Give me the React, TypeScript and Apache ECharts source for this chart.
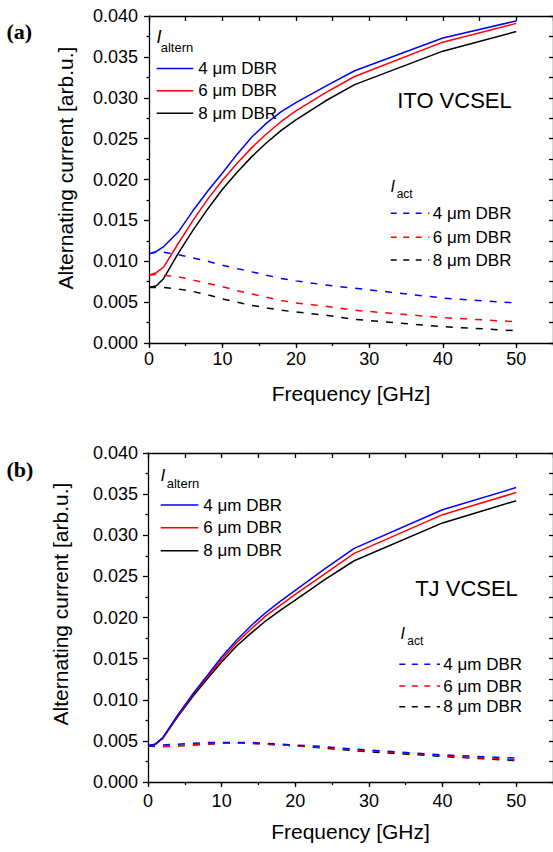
import React, { useEffect, useRef } from "react";
import * as echarts from "echarts";

// ---------- data ----------
const freqGHz = [0, 1, 2, 4, 6, 8, 10, 12, 14, 16, 18, 20, 24, 28, 40, 50];

// (a) ITO VCSEL
const itoAltern4 = [0.0109, 0.0112, 0.0118, 0.0136, 0.0162, 0.0186, 0.0208, 0.0231, 0.0252, 0.0269, 0.0283, 0.0294, 0.0314, 0.0333, 0.0373, 0.0394];
const itoAltern6 = [0.0083, 0.0086, 0.0093, 0.0122, 0.015, 0.0176, 0.0199, 0.022, 0.0239, 0.0256, 0.0271, 0.0284, 0.0306, 0.0326, 0.0368, 0.0391];
const itoAltern8 = [0.0068, 0.007, 0.0079, 0.011, 0.0138, 0.0164, 0.0188, 0.0209, 0.0228, 0.0245, 0.026, 0.0273, 0.0296, 0.0316, 0.0357, 0.0381];
const itoAct4 = [0.0109, 0.0111, 0.0111, 0.0108, 0.0104, 0.01, 0.0095, 0.0091, 0.0087, 0.0083, 0.0079, 0.0076, 0.0071, 0.0067, 0.0055, 0.0049];
const itoAct6 = [0.0083, 0.0084, 0.0083, 0.0081, 0.0077, 0.0073, 0.0069, 0.0064, 0.006, 0.0056, 0.0052, 0.0049, 0.0045, 0.004, 0.0031, 0.0026];
const itoAct8 = [0.0068, 0.0068, 0.0068, 0.0066, 0.0063, 0.0059, 0.0054, 0.005, 0.0046, 0.0043, 0.004, 0.0038, 0.0034, 0.0029, 0.002, 0.0015];

// (b) TJ VCSEL
const tjAltern4 = [0.0044, 0.0046, 0.0054, 0.0081, 0.0106, 0.0129, 0.0152, 0.0172, 0.019, 0.0206, 0.022, 0.0233, 0.0259, 0.0284, 0.0331, 0.0358];
const tjAltern6 = [0.0044, 0.0046, 0.0053, 0.008, 0.0105, 0.0127, 0.0149, 0.0169, 0.0186, 0.0202, 0.0215, 0.0228, 0.0253, 0.0278, 0.0325, 0.0352];
const tjAltern8 = [0.0044, 0.0046, 0.0053, 0.0079, 0.0103, 0.0125, 0.0146, 0.0165, 0.0181, 0.0196, 0.0209, 0.0221, 0.0246, 0.0269, 0.0315, 0.0342];
const tjAct4 = [0.0044, 0.0044, 0.0045, 0.0046, 0.0047, 0.0048, 0.0048, 0.0048, 0.0048, 0.0047, 0.0046, 0.0045, 0.0043, 0.004, 0.0033, 0.0029];
const tjAct6 = [0.0044, 0.0043, 0.0043, 0.0044, 0.0045, 0.0046, 0.0047, 0.0047, 0.0047, 0.0046, 0.0045, 0.0044, 0.0042, 0.0039, 0.0032, 0.0027];
const tjAct8 = [0.0044, 0.0043, 0.0043, 0.0044, 0.0045, 0.0046, 0.0047, 0.0047, 0.0047, 0.0046, 0.0045, 0.0044, 0.0041, 0.0038, 0.0031, 0.0026];

const legendLabels = ["4 \u03bcm DBR", "6 \u03bcm DBR", "8 \u03bcm DBR"];
const seriesColors = ["#0000ff", "#ff0000", "#000000"];
const xTickLabels = [0, 10, 20, 30, 40, 50];
const panelLabels = ["(a)", "(b)"];
const deviceLabels = ["ITO VCSEL", "TJ VCSEL"];
const yAxisTitle = "Alternating current [arb.u.]";
const xAxisTitle = "Frequency [GHz]";

const FONT = '"Liberation Sans", Arial, Helvetica, sans-serif';
const SERIF = '"Liberation Serif", "Times New Roman", serif';
const DASH = [7, 8];

function pairs(vals: number[]) {
  return freqGHz.map((f, i) => [f, vals[i]]);
}

function lineSeries(name: string, vals: number[], color: string, dashed: boolean, xi: number, yi: number) {
  return {
    type: "line",
    name,
    xAxisIndex: xi,
    yAxisIndex: yi,
    data: pairs(vals),
    showSymbol: false,
    symbol: "none",
    lineStyle: { color, width: 1.5, type: dashed ? DASH : "solid" },
    z: dashed ? 3 : 2,
  };
}

function xAxes(grid: number, gap: number, labelMargin: number) {
  const lineStyle = { color: "#000", width: 1.3 };
  return [
    {
      gridIndex: grid,
      type: "value",
      position: "bottom",
      min: 0,
      max: 55,
      interval: 10,
      axisLine: { show: true, onZero: false, lineStyle },
      axisTick: { show: true, inside: false, length: 5, lineStyle },
      splitLine: { show: false },
      axisLabel: {
        show: true,
        margin: labelMargin,
        color: "#000",
        fontSize: 18,
        fontFamily: FONT,
        showMaxLabel: false,
        formatter: (v: number) => (xTickLabels.indexOf(v) >= 0 ? String(v) : ""),
      },
      name: xAxisTitle,
      nameLocation: "middle",
      nameGap: gap,
      nameTextStyle: { color: "#000", fontSize: 21, fontFamily: FONT },
    },
    {
      gridIndex: grid,
      type: "value",
      position: "bottom",
      min: 0,
      max: 55,
      interval: 5,
      axisLine: { show: false, onZero: false },
      axisTick: { show: true, inside: false, length: 3, lineStyle },
      splitLine: { show: false },
      axisLabel: { show: false },
    },
    {
      gridIndex: grid,
      type: "value",
      position: "top",
      min: 0,
      max: 55,
      interval: 5,
      axisLine: { show: true, onZero: false, lineStyle },
      axisTick: { show: true, inside: true, length: 5, lineStyle },
      splitLine: { show: false },
      axisLabel: { show: false },
    },
  ];
}

function yAxes(grid: number, labelMargin: number) {
  const lineStyle = { color: "#000", width: 1.3 };
  return [
    {
      gridIndex: grid,
      type: "value",
      position: "left",
      min: 0,
      max: 0.04,
      interval: 0.005,
      axisLine: { show: true, onZero: false, lineStyle },
      axisTick: { show: true, inside: false, length: 5, lineStyle },
      minorTick: { show: true, splitNumber: 2, length: 2.5, lineStyle },
      splitLine: { show: false },
      minorSplitLine: { show: false },
      axisLabel: {
        show: true,
        margin: labelMargin,
        color: "#000",
        fontSize: 18,
        fontFamily: FONT,
        formatter: (v: number) => v.toFixed(3),
      },
    },
    {
      gridIndex: grid,
      type: "value",
      position: "right",
      min: 0,
      max: 0.04,
      interval: 0.0025,
      axisLine: { show: true, onZero: false, lineStyle },
      axisTick: { show: true, inside: true, length: 4, lineStyle },
      splitLine: { show: false },
      axisLabel: { show: false },
    },
  ];
}

function txt(x: number, y: number, text: string, size: number, extra: any = {}, align = "left") {
  return {
    type: "text",
    x,
    y,
    z: 10,
    style: {
      text,
      fill: "#000",
      fontSize: size,
      fontFamily: FONT,
      align,
      textAlign: align,
      verticalAlign: "middle",
      textVerticalAlign: "middle",
      ...extra,
    },
  };
}

function legendBlock(
  x1: number,
  x2: number,
  ys: number[],
  textX: number,
  dashed: boolean,
  head: { ix: number; iy: number; isz: number; sx: number; sy: number; ssz: number; sub: string }
) {
  const els: any[] = [];
  els.push(txt(head.ix, head.iy, "I", head.isz, { fontStyle: "italic" }));
  els.push(txt(head.sx, head.sy, head.sub, head.ssz));
  ys.forEach((y, i) => {
    els.push({
      type: "line",
      z: 10,
      shape: { x1, y1: y, x2, y2: y },
      style: { stroke: seriesColors[i], lineWidth: 1.5, lineDash: dashed ? [6, 6.5] : null },
    });
    els.push(txt(textX, y, legendLabels[i], 17));
  });
  return els;
}

export default function App() {
  const ref = useRef<HTMLDivElement>(null);

  useEffect(() => {
    if (!ref.current) return;
    const chart = echarts.init(ref.current, null, { renderer: "svg" });

    const series: any[] = [];
    const itoAlt = [itoAltern4, itoAltern6, itoAltern8];
    const itoAc = [itoAct4, itoAct6, itoAct8];
    const tjAlt = [tjAltern4, tjAltern6, tjAltern8];
    const tjAc = [tjAct4, tjAct6, tjAct8];
    // draw black first, blue on top
    [2, 1, 0].forEach((i) => series.push(lineSeries("ITO I_altern " + legendLabels[i], itoAlt[i], seriesColors[i], false, 0, 0)));
    [2, 1, 0].forEach((i) => series.push(lineSeries("ITO I_act " + legendLabels[i], itoAc[i], seriesColors[i], true, 0, 0)));
    [2, 1, 0].forEach((i) => series.push(lineSeries("TJ I_altern " + legendLabels[i], tjAlt[i], seriesColors[i], false, 3, 2)));
    [2, 1, 0].forEach((i) => series.push(lineSeries("TJ I_act " + legendLabels[i], tjAc[i], seriesColors[i], true, 3, 2)));

    const graphic: any[] = [
      txt(6.5, 31, panelLabels[0], 22, { fontFamily: SERIF, fontWeight: "bold" }),
      txt(6.5, 469, panelLabels[1], 22, { fontFamily: SERIF, fontWeight: "bold" }),
      txt(454.5, 100, deviceLabels[0], 22, {}, "center"),
      txt(466.5, 588, deviceLabels[1], 22, {}, "center"),
      { ...txt(65, 168, yAxisTitle, 21, {}, "center"), rotation: Math.PI / 2 },
      { ...txt(60.5, 604, yAxisTitle, 21, {}, "center"), rotation: Math.PI / 2 },
      ...legendBlock(156.7, 193.3, [68.4, 90.8, 113.2], 198.3, false, {
        ix: 156.5, iy: 37, isz: 18, sx: 160.7, sy: 47.2, ssz: 13, sub: "altern",
      }),
      ...legendBlock(390.7, 429.3, [213.3, 237.3, 260], 432.7, true, {
        ix: 390.5, iy: 186, isz: 16, sx: 396.7, sy: 193.5, ssz: 12, sub: "act",
      }),
      ...legendBlock(160.7, 198.3, [505, 527.7, 550.7], 203.3, false, {
        ix: 160.5, iy: 475.7, isz: 17, sx: 166.7, sy: 483.2, ssz: 13, sub: "altern",
      }),
      ...legendBlock(399.3, 440, [664.3, 686, 706.7], 443.3, true, {
        ix: 400.5, iy: 633, isz: 16, sx: 407.3, sy: 640.8, ssz: 12, sub: "act",
      }),
    ];

    chart.setOption({
      animation: false,
      backgroundColor: "#ffffff",
      grid: [
        { left: 149, top: 16, width: 405, height: 327, containLabel: false },
        { left: 148, top: 453, width: 409, height: 329, containLabel: false },
      ],
      xAxis: [...xAxes(0, 40, 7), ...xAxes(1, 39, 10)],
      yAxis: [...yAxes(0, 11), ...yAxes(1, 10)],
      series,
      graphic,
    });

    return () => chart.dispose();
  }, []);

  return (
    <div
      ref={ref}
      style={{ position: "absolute", left: 0, top: 0, width: 553, height: 852, background: "#fff" }}
    />
  );
}
